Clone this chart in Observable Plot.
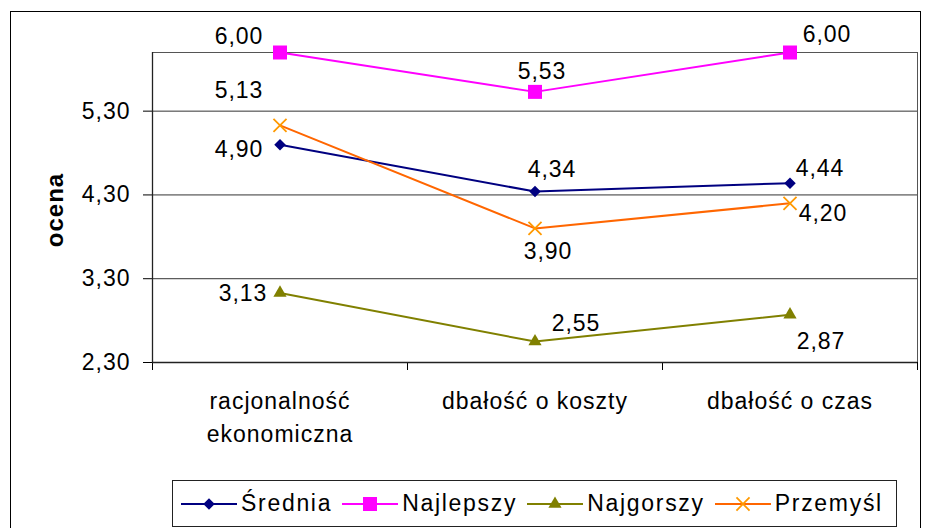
<!DOCTYPE html>
<html><head><meta charset="utf-8">
<script src="https://cdn.jsdelivr.net/npm/d3@7"></script>
<script src="https://cdn.jsdelivr.net/npm/@observablehq/plot@0.6"></script>
<style>
body{margin:0;background:#fff;}
#wrap{position:relative;width:925px;height:528px;overflow:hidden;font-family:"Liberation Sans",Arial,sans-serif;color:#000;}
#border{position:absolute;left:10px;top:11px;width:911px;height:560px;border:1.5px solid #000;box-sizing:border-box;}
#chart{position:absolute;left:0;top:0;}
#ylabel{position:absolute;left:55px;top:210px;transform:translate(-50%,-50%) rotate(-90deg);font-weight:bold;font-size:24px;letter-spacing:1px;white-space:nowrap;}
#legend{position:absolute;left:172px;top:480px;width:725px;height:47px;box-sizing:border-box;border:1px solid #222;background:#fff;display:flex;align-items:center;padding-left:8px;font-size:23px;letter-spacing:1.7px;}
.item{display:flex;align-items:center;margin-right:10px;white-space:nowrap;}
.item svg{margin-right:4px;display:block;}
</style>
</head><body>
<div id="wrap">
  <div id="border"></div>
  <div id="chart"></div>
  <div id="ylabel">ocena</div>
  <div id="legend"></div>
</div>
<script>
// ---- data ----
const categories = ["racjonalność ekonomiczna", "dbałość o koszty", "dbałość o czas"];
const tickLabels = ["racjonalność\nekonomiczna", "dbałość o koszty", "dbałość o czas"];
const seriesNames = ["Średnia", "Najlepszy", "Najgorszy", "Przemyśl"];
const srednia   = [4.90, 4.34, 4.44];
const najlepszy = [6.00, 5.53, 6.00];
const najgorszy = [3.13, 2.55, 2.87];
const przemysl  = [5.13, 3.90, 4.20];
const yTicks = [2.30, 3.30, 4.30, 5.30];
const yDomain = [2.30, 6.00];

// ---- styles (kept apart from the data) ----
const lineColors   = ["#000080", "#FF00FF", "#808000", "#FF6600"];
const markerColors = ["#000080", "#FF00FF", "#808000", "#FF9900"];
const symbols      = ["diamond2", "square", "triangle", "times"];
const symbolR      = [5.2, 7.9, 4.9, 6.0];
// label offsets [dx, dy] per point
const labelOffsets = [
  [[-41, 5], [17, -22], [30, -15]],
  [[-41, -16], [7, -20], [37, -18]],
  [[-37, 1], [41, -18], [31, 27]],
  [[-41, -35], [13, 23], [33, 10]]
];

const valuesBySeries = [srednia, najlepszy, najgorszy, przemysl];
const fmt = v => v.toFixed(2).replace(".", ",");

const W = 925, H = 480;
const marks = [
  Plot.frame({stroke: "#555"}),
  Plot.gridY(yTicks, {stroke: "#333", strokeOpacity: 1}),
  Plot.axisY({ticks: yTicks, tickSize: 9, tickPadding: 13, tickFormat: fmt, label: null}),
  Plot.axisX({ticks: [-0.5, 0.5, 1.5, 2.5], tickSize: 8, tickFormat: () => "", label: null}),
  Plot.axisX({ticks: [0, 1, 2], tickSize: 0, tickPadding: 24, lineHeight: 1.4, tickFormat: i => tickLabels[i], label: null}),
  Plot.ruleY([yDomain[0]], {stroke: "#222", strokeWidth: 1.3}),
  Plot.ruleX([-0.5], {stroke: "#222", strokeWidth: 1.3})
];

valuesBySeries.forEach((vals, s) => {
  const rows = categories.map((c, i) => ({category: c, i, value: vals[i]}));
  marks.push(Plot.line(rows, {x: "i", y: "value", stroke: lineColors[s], strokeWidth: 2}));
  const isStroke = symbols[s] === "times";
  marks.push(Plot.dot(rows, {
    x: "i", y: "value", symbol: symbols[s], r: symbolR[s],
    fill: isStroke ? "none" : markerColors[s],
    stroke: isStroke ? markerColors[s] : "none",
    strokeWidth: isStroke ? 1.8 : 0
  }));
  rows.forEach((row, i) => {
    marks.push(Plot.text([row], {
      x: "i", y: "value", text: d => fmt(d.value),
      dx: labelOffsets[s][i][0], dy: labelOffsets[s][i][1],
      fontSize: 23, fill: "#000"
    }));
  });
});

const chart = Plot.plot({
  width: W, height: H,
  marginLeft: 152, marginRight: 8, marginTop: 52, marginBottom: H - 362,
  x: {type: "linear", domain: [-0.5, 2.5]},
  y: {type: "linear", domain: yDomain},
  style: {fontFamily: "'Liberation Sans', Arial, sans-serif", fontSize: "23px", letterSpacing: "1px", color: "#000", background: "transparent", overflow: "visible"},
  marks
});
document.getElementById("chart").appendChild(chart);

// ---- legend ----
const legend = d3.select("#legend");
seriesNames.forEach((name, s) => {
  const item = legend.append("div").attr("class", "item");
  const svg = item.append("svg").attr("width", 56).attr("height", 24);
  svg.append("line").attr("x1", 0).attr("x2", 56).attr("y1", 12).attr("y2", 12)
     .attr("stroke", lineColors[s]).attr("stroke-width", 2);
  const typeMap = {diamond2: d3.symbolDiamond2, square: d3.symbolSquare, triangle: d3.symbolTriangle, times: d3.symbolTimes};
  const size = Math.PI * symbolR[s] * symbolR[s];
  const isStroke = symbols[s] === "times";
  svg.append("path").attr("transform", "translate(28,12)")
     .attr("d", d3.symbol(typeMap[symbols[s]], size)())
     .attr("fill", isStroke ? "none" : markerColors[s])
     .attr("stroke", isStroke ? markerColors[s] : "none")
     .attr("stroke-width", 1.8);
  item.append("span").text(name);
});
</script>
</body></html>
